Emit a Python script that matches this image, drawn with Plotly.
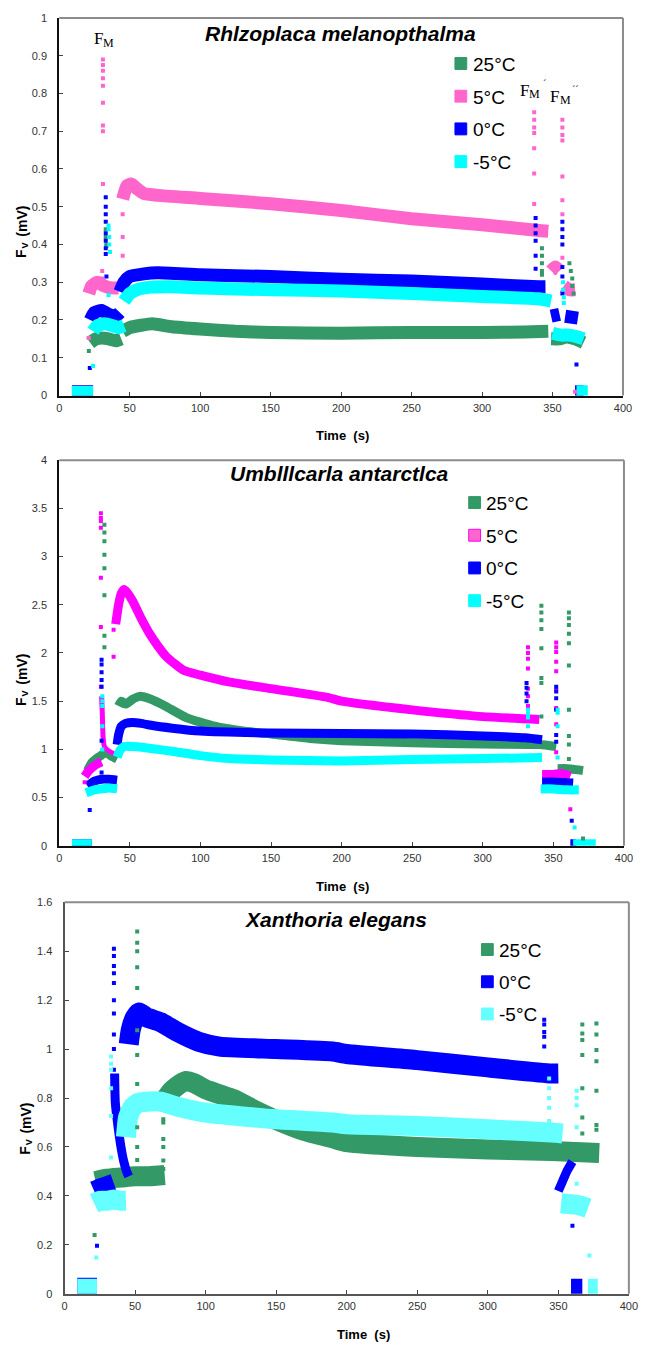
import plotly.graph_objects as go

W, H = 647, 1350
SANS = "Liberation Sans, Arial, sans-serif"
SERIF = "Liberation Serif, Times New Roman, serif"

GREEN = "#339966"
PINK = "#FF66CC"
MAGENTA = "#FF00FF"
BLUE = "#0000FF"
CYAN = "#00FFFF"
LCYAN = "#66FFFF"

TIME_TICKS = [0, 50, 100, 150, 200, 250, 300, 350, 400]

# ---------------- Rhizoplaca melanopthalma ----------------
rm_25_t = [22, 26, 30, 35, 40, 44, None,
           45, 50, 58, 66, 80, 100, 125, 150, 200, 250, 300, 330, 347, None,
           349, 355, 360, 366, 372]
rm_25_v = [0.14, 0.15, 0.152, 0.15, 0.145, 0.15, None,
           0.17, 0.18, 0.186, 0.19, 0.182, 0.176, 0.17, 0.167, 0.165, 0.167, 0.167, 0.168, 0.17, None,
           0.15, 0.15, 0.155, 0.15, 0.14]
rm_25_dot_t = [21, 21, 33, 33, 33.5, 33.5, 342.5, 342.5, 342.5, 342.5, 342.5, 362, 363, 364, 364, 365]
rm_25_dot_v = [0.118, 0.152, 0.44, 0.42, 0.40, 0.395, 0.39, 0.37, 0.35, 0.33, 0.32, 0.35, 0.33, 0.31, 0.29, 0.27]

rm_5_t = [21, 23, 27, 32, 37, 42, None,
          45, 48, 51, 55, 60, 70, 100, 150, 200, 250, 300, 340, 347, None,
          349, 352, 355, None,
          358, 362, 366]
rm_5_v = [0.27, 0.29, 0.30, 0.29, 0.285, 0.285, None,
          0.52, 0.555, 0.56, 0.548, 0.535, 0.53, 0.522, 0.508, 0.49, 0.468, 0.452, 0.437, 0.435, None,
          0.33, 0.34, 0.33, None,
          0.29, 0.28, 0.28]
rm_5_dot_t = [21, 31, 31, 31, 31, 31, 31, 31, 31, 31, 30.5, 30.5,
              45, 45, 45,
              337, 337, 337, 337, 337, 337, 337,
              357, 357, 357, 357, 357, 357, 357, 357, 366]
rm_5_dot_v = [0.152, 0.89, 0.875, 0.86, 0.84, 0.82, 0.775, 0.715, 0.70, 0.56, 0.33, 0.31,
              0.37, 0.42, 0.48,
              0.75, 0.73, 0.71, 0.695, 0.655, 0.588, 0.507,
              0.73, 0.71, 0.69, 0.675, 0.58, 0.517, 0.48, 0.365, 0.01]

rm_0_t = [9, 24, None,
          22, 25, 30, 35, 40, 43, None,
          43, 46, 50, 60, 70, 100, 150, 200, 250, 300, 340, 345, None,
          349, 355, None,
          359, 368, None,
          366, 372]
rm_0_v = [0.01, 0.01, None,
          0.20, 0.22, 0.225, 0.215, 0.21, 0.22, None,
          0.275, 0.30, 0.315, 0.322, 0.325, 0.32, 0.315, 0.308, 0.303, 0.295, 0.288, 0.288, None,
          0.21, 0.215, None,
          0.21, 0.205, None,
          0.01, 0.01]
rm_0_dot_t = [21.7, 33, 33, 33, 33, 33, 33, 33, 33, 33.5, 33.5,
              338, 338, 338, 338, 338, 338,
              357, 357, 357, 357, 357, 357, 357, 367]
rm_0_dot_v = [0.073, 0.525, 0.50, 0.48, 0.46, 0.43, 0.41, 0.39, 0.375, 0.315, 0.23,
              0.47, 0.45, 0.43, 0.41, 0.37, 0.336,
              0.46, 0.44, 0.42, 0.40, 0.34, 0.315, 0.27, 0.082]

rm_m5_t = [9, 24, None,
           24, 27, 32, 38, 42, 46, None,
           46, 50, 55, 65, 80, 100, 150, 200, 250, 300, 340, 349, None,
           350, 356, 362, 368, 372, None,
           367, 375]
rm_m5_v = [0.008, 0.008, None,
           0.17, 0.185, 0.19, 0.185, 0.18, 0.185, None,
           0.25, 0.27, 0.28, 0.287, 0.288, 0.285, 0.28, 0.277, 0.27, 0.262, 0.256, 0.25, None,
           0.165, 0.16, 0.16, 0.155, 0.15, None,
           0.01, 0.01]
rm_m5_dot_t = [24, 35, 35, 35.5, 35.5, 36, 35, 357.5, 357.5, 358, 358]
rm_m5_dot_v = [0.078, 0.45, 0.44, 0.42, 0.40, 0.38, 0.266, 0.30, 0.28, 0.26, 0.245]

# ---------------- Umbilicaria antarctica ----------------
ua_25_t = [20, 23, 26, 29, 33, 37, 41, None,
           42, 44, 47, 52, 57, 65, 75, 90, 110, 130, 150, 180, 200, 250, 300, 340, 352, None,
           353, 360, 366, 371]
ua_25_v = [0.78, 0.86, 0.90, 0.93, 0.97, 0.93, 0.90, None,
           1.45, 1.50, 1.47, 1.52, 1.55, 1.52, 1.45, 1.33, 1.24, 1.19, 1.16, 1.11, 1.09, 1.07, 1.055, 1.05, 1.03, None,
           0.80, 0.80, 0.79, 0.78]
ua_25_dot_t = [32, 32, 32, 32, 32, 32, 32, 32,
               341.5, 341.5, 341.5, 341.5, 341.5, 341.5, 341.5, 341.5,
               361, 361, 361, 361, 361, 361, 361, 361, 361, 361, 371]
ua_25_dot_v = [3.33, 3.25, 3.16, 3.02, 2.88, 2.60, 2.18, 2.06,
               2.49, 2.42, 2.34, 2.25, 2.05, 1.74, 1.69, 1.34,
               2.42, 2.36, 2.29, 2.20, 2.10, 1.87, 1.41, 1.14, 1.05, 0.90, 0.075]

ua_5_t = [18, 21, 24, 27, 30, None,
          40, 42, 44, 46, 48, 52, 58, 64, 70, 76, 88, 100, 120, 150, 190, 200, 250, 300, 340, None,
          342, 350, 356, 362]
ua_5_v = [0.72, 0.78, 0.82, 0.85, 0.87, None,
          2.30, 2.50, 2.62, 2.66, 2.63, 2.54, 2.36, 2.20, 2.07, 1.96, 1.82, 1.77, 1.70, 1.63, 1.54, 1.50, 1.41, 1.34, 1.31, None,
          0.74, 0.74, 0.75, 0.72]
# fast decay right after the first saturating flash
ua_5_thin_t = [30, 30.5, 31, 32, 35.5, 39.6]
ua_5_thin_v = [1.55, 1.38, 1.14, 1.03, 0.98, 0.95]
ua_5_dot_t = [18, 29.5, 29.5, 29.5, 29.5, 29.5, 29.5, 29.5, 38.5, 38.5,
              332, 332, 332, 332, 332, 332, 332,
              352, 352, 352, 352, 352, 352, 352, 352, 352, 362]
ua_5_dot_v = [0.66, 3.45, 3.40, 3.37, 3.30, 2.78, 2.27, 1.65, 2.24, 1.96,
              2.06, 2.00, 1.94, 1.84, 1.63, 1.55, 1.45,
              2.11, 2.06, 2.01, 1.91, 1.81, 1.62, 1.43, 1.26, 0.97, 0.38]

ua_0_t = [9, 23, None,
          20, 25, 30, 35, 41, None,
          41, 42, 44, 47, 52, 58, 65, 80, 100, 150, 200, 250, 300, 330, 342, None,
          342, 352, 364, None,
          362, 366]
ua_0_v = [0.02, 0.02, None,
          0.62, 0.67, 0.69, 0.69, 0.68, None,
          1.05, 1.15, 1.24, 1.27, 1.28, 1.27, 1.25, 1.22, 1.19, 1.17, 1.165, 1.16, 1.14, 1.12, 1.10, None,
          0.66, 0.66, 0.65, None,
          0.02, 0.02]
ua_0_dot_t = [21.6, 30, 30, 30, 30, 30, 30, 30,
              331, 331, 331, 331,
              352, 352, 352, 352, 352, 352, 363]
ua_0_dot_v = [0.37, 1.93, 1.88, 1.80, 1.72, 1.65, 1.09, 0.76,
              1.69, 1.64, 1.58, 1.50,
              1.65, 1.60, 1.53, 1.41, 1.15, 1.08, 0.26]

ua_m5_t = [9, 23, None,
           19, 25, 30, 35, 41, None,
           41, 43, 46, 52, 60, 70, 80, 100, 120, 150, 200, 250, 300, 342, None,
           341, 350, 360, 368, None,
           364, 380]
ua_m5_v = [0.02, 0.02, None,
           0.55, 0.58, 0.59, 0.60, 0.59, None,
           0.92, 0.99, 1.03, 1.03, 1.02, 1.00, 0.98, 0.935, 0.905, 0.89, 0.88, 0.895, 0.905, 0.915, None,
           0.59, 0.59, 0.58, 0.58, None,
           0.02, 0.02]
ua_m5_dot_t = [30.5, 30.5, 30.5, 30.5, 30.5,
               332, 332, 332, 332,
               353, 353, 353, 353, 365]
ua_m5_dot_v = [1.55, 1.50, 1.45, 1.24, 1.00,
               1.41, 1.37, 1.33, 1.24,
               1.41, 1.38, 1.24, 0.915, 0.19]

# ---------------- Xanthoria elegans ----------------
xe_25_t = [22, 30, 40, 50, 60, 71, None,
           72, 76, 80, 86, 92, 100, 110, 120, 135, 150, 170, 190, 200, 250, 300, 345, 379]
xe_25_v = [0.46, 0.47, 0.475, 0.48, 0.48, 0.485, None,
           0.80, 0.83, 0.85, 0.87, 0.86, 0.835, 0.815, 0.795, 0.75, 0.71, 0.665, 0.635, 0.62, 0.60, 0.59, 0.583, 0.575]
xe_25_dot_t = [21.3,
               51.5, 51.5, 51.5, 51.5, 51.5, 51.5, 51.5, 51.5, 51.5, 51.5, 51.5,
               70, 70, 70, 70, 70, 70,
               367, 367, 367, 367, 367, 367, 367,
               377, 377, 377, 377, 377, 377, 377]
xe_25_dot_v = [0.24,
               1.48, 1.435, 1.40, 1.334, 1.25, 1.077, 0.976, 0.857, 0.68, 0.60, 0.547,
               0.713, 0.70, 0.632, 0.60, 0.545, 0.51,
               1.10, 1.064, 1.037, 0.976, 0.84, 0.72, 0.655,
               1.104, 1.06, 0.996, 0.95, 0.83, 0.69, 0.67]

xe_0_t = [9, 23, None,
          21, 25, 30, 35, None,
          45.5, 47, 50, 53, 58, 68, 80, 95, 110, 150, 190, 200, 250, 300, 345, 350, None,
          359, 367]
xe_0_v = [0.025, 0.025, None,
          0.42, 0.43, 0.44, 0.45, None,
          1.02, 1.08, 1.13, 1.15, 1.13, 1.11, 1.07, 1.03, 1.01, 1.00, 0.99, 0.98, 0.955, 0.925, 0.90, 0.90, None,
          0.02, 0.02]
# decay after the first flash and the recovery after the last one
xe_0_thin_t = [35.5, 36, 38, 40, 42, 44, 45.5, None,
               350, 353, 356, 360]
xe_0_thin_v = [0.90, 0.78, 0.68, 0.60, 0.54, 0.50, 0.48, None,
               0.42, 0.46, 0.50, 0.54]
xe_0_dot_t = [23, 35, 35, 35, 35, 35, 35, 35, 35, 35, 35, 35,
              340, 340, 340, 340, 340, 360]
xe_0_dot_v = [0.196, 1.41, 1.38, 1.34, 1.31, 1.27, 1.20, 1.145, 1.06, 1.00, 0.915, 0.86,
              1.12, 1.10, 1.07, 1.05, 1.01, 0.278]

xe_m5_t = [9, 23, None,
           21, 25, 30, 35, 40, 43.5, None,
           43.5, 45, 48, 52, 58, 68, 80, 100, 150, 190, 200, 250, 300, 345, 353, None,
           352, 360, 366, 371, None,
           371, 378]
xe_m5_v = [0.02, 0.02, None,
           0.37, 0.38, 0.38, 0.385, 0.38, 0.38, None,
           0.64, 0.72, 0.76, 0.78, 0.785, 0.785, 0.765, 0.74, 0.713, 0.70, 0.693, 0.686, 0.672, 0.659, 0.655, None,
           0.37, 0.365, 0.36, 0.35, None,
           0.02, 0.02]
xe_m5_dot_t = [22.5, 33, 33, 33, 33, 33, 33,
               343.5, 343.5, 343.5, 343.5, 343.5,
               363, 363, 363, 363, 363, 372]
xe_m5_dot_v = [0.148, 0.97, 0.94, 0.915, 0.84, 0.726, 0.557,
               0.88, 0.84, 0.80, 0.76, 0.706,
               0.83, 0.80, 0.77, 0.68, 0.45, 0.156]

# ---------------- panel definitions ----------------
# key: (left edge of swatch, centre of first row, row pitch) in pixels
panels = [
    dict(title="Rhlzoplaca melanopthalma", ymax=1.0, ydtick=0.1,
         x_px=(57.3, 631.7), y_px=(12.0, 393.0), band=13, thin=6, dot=4,
         axcolor="#111",
         series=[("25°C", GREEN, GREEN, rm_25_t, rm_25_v, [], [], rm_25_dot_t, rm_25_dot_v),
                 ("5°C", PINK, PINK, rm_5_t, rm_5_v, [], [], rm_5_dot_t, rm_5_dot_v),
                 ("0°C", BLUE, BLUE, rm_0_t, rm_0_v, [], [], rm_0_dot_t, rm_0_dot_v),
                 ("-5°C", CYAN, CYAN, rm_m5_t, rm_m5_v, [], [], rm_m5_dot_t, rm_m5_dot_v)],
         title_xy=(344, 28), xtitle_xy=(346, 433), ytitle_xy=(19, 228), key=(460.5, 58, 33)),
    dict(title="Umblllcarla antarctlca", ymax=4.0, ydtick=0.5,
         x_px=(57.3, 632.7), y_px=(458.3, 847.3), band=9, thin=5, dot=4,
         axcolor="#111",
         series=[("25°C", GREEN, GREEN, ua_25_t, ua_25_v, [], [], ua_25_dot_t, ua_25_dot_v),
                 ("5°C", MAGENTA, PINK, ua_5_t, ua_5_v, ua_5_thin_t, ua_5_thin_v, ua_5_dot_t, ua_5_dot_v),
                 ("0°C", BLUE, BLUE, ua_0_t, ua_0_v, [], [], ua_0_dot_t, ua_0_dot_v),
                 ("-5°C", CYAN, CYAN, ua_m5_t, ua_m5_v, [], [], ua_m5_dot_t, ua_m5_dot_v)],
         title_xy=(343, 472), xtitle_xy=(346, 888), ytitle_xy=(19, 680), key=(474.5, 501, 33)),
    dict(title="Xanthoria elegans", ymax=1.6, ydtick=0.2,
         x_px=(62.7, 637.7), y_px=(904.3, 1299.3), band=20, thin=9, dot=4,
         axcolor="#555",
         series=[("25°C", GREEN, GREEN, xe_25_t, xe_25_v, [], [], xe_25_dot_t, xe_25_dot_v),
                 ("0°C", BLUE, BLUE, xe_0_t, xe_0_v, xe_0_thin_t, xe_0_thin_v, xe_0_dot_t, xe_0_dot_v),
                 ("-5°C", LCYAN, LCYAN, xe_m5_t, xe_m5_v, [], [], xe_m5_dot_t, xe_m5_dot_v)],
         title_xy=(339, 922), xtitle_xy=(367, 1340), ytitle_xy=(23, 1133), key=(487.5, 952, 32.5)),
]


def px_x(p):
    return p / W


def px_y(p):
    return 1 - p / H


fig = go.Figure()
layout = dict(width=W, height=H, margin=dict(l=0, r=0, t=0, b=0),
              paper_bgcolor="white", plot_bgcolor="white", showlegend=False)
annotations = []
shapes = []


def note(text, x, y, size, family=SANS, angle=0, xanchor="center"):
    annotations.append(dict(text=text, x=px_x(x), y=px_y(y), xref="paper", yref="paper",
                            xanchor=xanchor, yanchor="middle", showarrow=False,
                            textangle=angle, font=dict(family=family, size=size, color="black")))


def fv_label(x, y):
    """Rotated 'F_V (mV)' axis label; subscript set as its own smaller text."""
    bottom = y + 26
    note("<b>F</b>", x, bottom - 4.5, 14, angle=-90)
    note("<b>V</b>", x + 3.5, bottom - 12.5, 9, angle=-90)
    note("<b>(mV)</b>", x, bottom - 37, 14, angle=-90)


def fm_label(x, y, primes=0):
    """F_M label with optional prime marks, in a serif face."""
    note("F", x - 5, y, 17, family=SERIF)
    note("M", x + 6, y + 4, 12, family=SERIF)
    if primes:
        note("´" * primes, x + 16, y - 7, 10, family=SERIF)


for i, p in enumerate(panels, start=1):
    sfx = "" if i == 1 else str(i)
    xa, ya = "x" + sfx, "y" + sfx
    for name, color, legcolor, bt, bv, tt, tv, dt, dv in p["series"]:
        fig.add_trace(go.Scatter(
            x=bt, y=bv, mode="lines", xaxis=xa, yaxis=ya, name=name,
            line=dict(color=color, width=p["band"], shape="spline", smoothing=0.5),
            connectgaps=False, hoverinfo="skip"))
        if tt:
            fig.add_trace(go.Scatter(
                x=tt, y=tv, mode="lines", xaxis=xa, yaxis=ya, name=name,
                line=dict(color=color, width=p["thin"], shape="spline", smoothing=0.5),
                connectgaps=False, hoverinfo="skip"))
    for name, color, legcolor, bt, bv, tt, tv, dt, dv in p["series"]:
        fig.add_trace(go.Scatter(
            x=dt, y=dv, mode="markers", xaxis=xa, yaxis=ya, name=name,
            marker=dict(symbol="square", size=p["dot"], color=color, line=dict(width=0)),
            hoverinfo="skip"))

    # temperature key: square swatch plus label
    kx, ky, kstep = p["key"]
    for k, (name, color, legcolor, *_rest) in enumerate(p["series"]):
        cy = ky + k * kstep
        shapes.append(dict(type="rect", xref="paper", yref="paper",
                           x0=px_x(kx), x1=px_x(kx + 12), y0=px_y(cy + 6), y1=px_y(cy - 6),
                           fillcolor=legcolor, line=dict(color=color, width=1)))
        note(name, kx + 16, cy + 1, 19, xanchor="left")

    x0, x1 = p["x_px"]
    y0, y1 = p["y_px"]
    layout["xaxis" + sfx] = dict(
        domain=[px_x(x0), px_x(x1)], anchor=ya, range=[0, 400],
        tickvals=TIME_TICKS, ticks="inside", ticklen=4, tickcolor="#444",
        showline=True, linecolor=p["axcolor"], linewidth=2, showgrid=False, zeroline=False,
        tickfont=dict(family=SANS, size=11, color="#333"), ticklabelstandoff=1)
    nt = int(round(p["ymax"] / p["ydtick"]))
    yt = [round(k * p["ydtick"], 2) for k in range(nt + 1)]
    layout["yaxis" + sfx] = dict(
        domain=[px_y(y1), px_y(y0)], anchor=xa, range=[0, p["ymax"]],
        tickvals=yt, ticktext=[("%g" % v) for v in yt],
        ticks="inside", ticklen=4, tickcolor="#444",
        showline=True, linecolor=p["axcolor"], linewidth=2, showgrid=False, zeroline=False,
        tickfont=dict(family=SANS, size=11, color="#333"), ticklabelstandoff=8)
    # light frame on the top and right sides
    shapes.append(dict(type="line", xref=xa + " domain", yref=ya + " domain",
                       x0=0, x1=1, y0=1, y1=1, line=dict(color="#8c8c8c", width=2)))
    shapes.append(dict(type="line", xref=xa + " domain", yref=ya + " domain",
                       x0=1, x1=1, y0=0, y1=1, line=dict(color="#8c8c8c", width=2)))

    tx, ty = p["title_xy"]
    note("<b><i>%s</i></b>" % p["title"], tx, ty, 21)
    xtx, xty = p["xtitle_xy"]
    note("<b>Time  (s)</b>", xtx, xty, 13)
    fv_label(*p["ytitle_xy"])

# F_M markers on the first panel
fm_label(102, 33)
fm_label(536, 85, primes=1)
fm_label(567, 91, primes=2)

layout["annotations"] = annotations
layout["shapes"] = shapes
fig.update_layout(**layout)
fig.write_html("out.html")
